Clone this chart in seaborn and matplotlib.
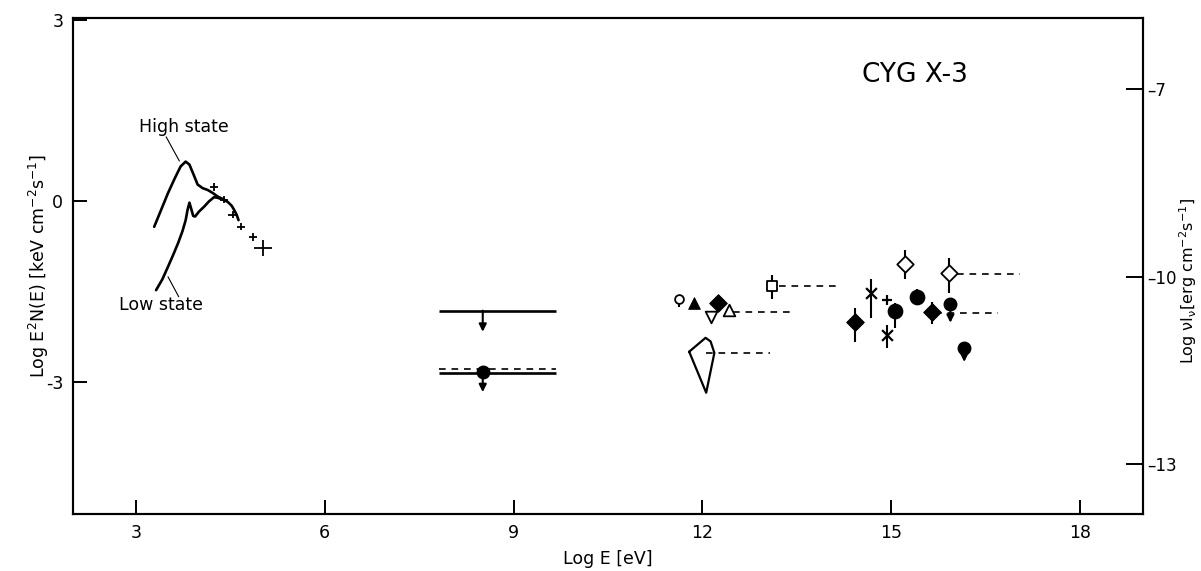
import numpy as np
import pandas as pd
import matplotlib
matplotlib.use("Agg")
import matplotlib.pyplot as plt
import seaborn as sns

# ---------------- data ----------------
high_x = [3.29, 3.40, 3.51, 3.62, 3.71, 3.79, 3.85, 3.91, 3.98, 4.06, 4.14, 4.22,
          4.30, 4.38, 4.46, 4.52, 4.56, 4.60, 4.63]
high_y = [-0.43, -0.15, 0.13, 0.38, 0.57, 0.65, 0.60, 0.45, 0.27, 0.21, 0.18, 0.13,
          0.07, 0.03, -0.02, -0.08, -0.15, -0.23, -0.32]
low_x = [3.32, 3.42, 3.51, 3.59, 3.67, 3.74, 3.79, 3.82, 3.85, 3.88, 3.91, 3.94,
         4.00, 4.08, 4.16, 4.24, 4.30, 4.38]
low_y = [-1.48, -1.30, -1.09, -0.90, -0.70, -0.50, -0.32, -0.15, -0.03, -0.14, -0.25, -0.26,
         -0.18, -0.10, -0.01, 0.06, 0.05, 0.02]

xray_x = [4.24, 4.40, 4.54, 4.67, 4.86, 5.02]
xray_y = [0.23, 0.02, -0.23, -0.43, -0.60, -0.78]
xray_xerr = [0.07, 0.07, 0.07, 0.07, 0.07, 0.14]
xray_yerr = [0.06, 0.06, 0.06, 0.06, 0.06, 0.13]

# horizontal segments (y, x_start, x_end)
solid_y = [-1.82, -2.85]
solid_x0 = [7.81, 7.81]
solid_x1 = [9.67, 9.67]
dashed_y = [-2.79, -1.84, -1.41, -2.52, -1.21, -1.86]
dashed_x0 = [7.81, 12.49, 13.21, 12.05, 16.05, 15.70]
dashed_x1 = [9.67, 13.44, 14.16, 13.08, 17.05, 16.70]

# upper-limit arrows (x, from y, to y)
ul_x = [8.51, 8.51, 15.94, 16.16]
ul_y0 = [-1.82, -2.84, -1.71, -2.44]
ul_y1 = [-2.17, -3.17, -2.02, -2.67]
ul_dot = [False, True, True, True]

# marker groups: x, y, lower, upper
fdiam_x = [12.25, 14.43, 15.65]
fdiam_y = [-1.69, -2.00, -1.84]
fdiam_lo = [-1.82, -2.34, -2.04]
fdiam_hi = [-1.59, -1.77, -1.67]

fcirc_x = [15.06, 15.41]
fcirc_y = [-1.82, -1.59]
fcirc_lo = [-2.11, -1.72]
fcirc_hi = [-1.69, -1.46]

odiam_x = [15.22, 15.92]
odiam_y = [-1.05, -1.19]
odiam_lo = [-1.29, -1.53]
odiam_hi = [-0.81, -0.95]

cross_x = [14.68, 14.94]
cross_y = [-1.52, -2.22]
cross_lo = [-1.94, -2.44]
cross_hi = [-1.29, -2.06]

plus_x = [14.94]
plus_y = [-1.64]

osq_x = [13.11]
osq_y = [-1.41]
osq_lo = [-1.63]
osq_hi = [-1.23]

ocirc_x = [11.63]
ocirc_y = [-1.63]
ocirc_lo = [-1.76]

ftri_x = [11.87]
ftri_y = [-1.69]
ftri_lo = [-1.80]

otridown_x = [12.13]
otridown_y = [-1.92]
otriup_x = [12.43]
otriup_y = [-1.81]

kite_x = [11.79, 12.05, 12.13, 12.19, 12.06, 11.79]
kite_y = [-2.50, -2.27, -2.33, -2.52, -3.18, -2.50]

x_ticks = [3, 6, 9, 12, 15, 18]
y_ticks = [-3, 0, 3]
y2_ticks = [-7, -10, -13]

# ---------------- plot ----------------
sns.set_style("ticks")
plt.rcParams['font.family'] = ['DejaVu Sans']
for k in ['text.color', 'axes.labelcolor', 'xtick.color', 'ytick.color', 'axes.edgecolor']:
    plt.rcParams[k] = 'black'

fig = plt.figure(figsize=(12.01, 5.71), dpi=100)
ax = fig.add_axes([73 / 1201, 1 - 514 / 571, (1143 - 73) / 1201, (514 - 18) / 571])

K = 'black'
lw_curve = 1.9

sns.lineplot(x=high_x, y=high_y, sort=False, estimator=None, color=K, lw=lw_curve, ax=ax)
sns.lineplot(x=low_x, y=low_y, sort=False, estimator=None, color=K, lw=lw_curve, ax=ax)

# labels for the states
ax.text(3.76, 1.23, "High state", ha='center', va='center', fontsize=12.5)
ax.plot([3.48, 3.69], [1.06, 0.66], color=K, lw=0.8)
ax.text(3.40, -1.72, "Low state", ha='center', va='center', fontsize=12.5)
ax.plot([3.51, 3.68], [-1.26, -1.59], color=K, lw=0.8)

# X-ray crosses
ax.errorbar(xray_x, xray_y, xerr=xray_xerr, yerr=xray_yerr, fmt='none',
            ecolor=K, elinewidth=1.3, capsize=0)

# horizontal segments
for y, a, b in zip(solid_y, solid_x0, solid_x1):
    ax.plot([a, b], [y, y], color=K, lw=1.9, solid_capstyle='butt')
for y, a, b in zip(dashed_y, dashed_x0, dashed_x1):
    ax.plot([a, b], [y, y], color=K, lw=1.2, ls=(0, (4, 3.5)))

# upper limit arrows
for x, y0, y1, dot in zip(ul_x, ul_y0, ul_y1, ul_dot):
    ax.annotate('', xy=(x, y1), xytext=(x, y0),
                arrowprops=dict(arrowstyle='-|>', color=K, lw=1.5,
                                mutation_scale=11, shrinkA=0, shrinkB=0))
    if dot:
        ax.plot([x], [y0], marker='o', ms=9, color=K, ls='none', zorder=5)

def ebar(x, y, lo, hi):
    y = np.asarray(y); lo = np.asarray(lo); hi = np.asarray(hi)
    ax.errorbar(x, y, yerr=[y - lo, hi - y], fmt='none', ecolor=K, elinewidth=1.5, capsize=0)

ebar(fdiam_x, fdiam_y, fdiam_lo, fdiam_hi)
ebar(fcirc_x, fcirc_y, fcirc_lo, fcirc_hi)
ebar(odiam_x, odiam_y, odiam_lo, odiam_hi)
ebar(cross_x, cross_y, cross_lo, cross_hi)
ebar(osq_x, osq_y, osq_lo, osq_hi)
ebar(ocirc_x, ocirc_y, ocirc_lo, ocirc_y)
ebar(ftri_x, ftri_y, ftri_lo, ftri_y)

sns.scatterplot(x=fdiam_x, y=fdiam_y, marker='D', s=80, color=K, edgecolor=K, ax=ax, zorder=5)
sns.scatterplot(x=fcirc_x, y=fcirc_y, marker='o', s=110, color=K, edgecolor=K, ax=ax, zorder=5)
sns.scatterplot(x=odiam_x, y=odiam_y, marker='D', s=70, facecolor='white', edgecolor=K,
                linewidth=1.3, ax=ax, zorder=5)
sns.scatterplot(x=cross_x, y=cross_y, marker='x', s=60, color=K, linewidth=1.6, ax=ax, zorder=5)
sns.scatterplot(x=plus_x, y=plus_y, marker='+', s=45, color=K, linewidth=1.6, ax=ax, zorder=5)
sns.scatterplot(x=osq_x, y=osq_y, marker='s', s=55, facecolor='white', edgecolor=K,
                linewidth=1.3, ax=ax, zorder=5)
sns.scatterplot(x=ocirc_x, y=ocirc_y, marker='o', s=40, facecolor='white', edgecolor=K,
                linewidth=1.3, ax=ax, zorder=5)
sns.scatterplot(x=ftri_x, y=ftri_y, marker='^', s=70, color=K, edgecolor=K, ax=ax, zorder=5)
sns.scatterplot(x=otridown_x, y=otridown_y, marker='v', s=70, facecolor='white', edgecolor=K,
                linewidth=1.3, ax=ax, zorder=5)
sns.scatterplot(x=otriup_x, y=otriup_y, marker='^', s=70, facecolor='white', edgecolor=K,
                linewidth=1.3, ax=ax, zorder=5)

sns.lineplot(x=kite_x, y=kite_y, sort=False, estimator=None, color=K, lw=1.6, ax=ax)

ax.text(15.38, 2.09, "CYG X-3", ha='center', va='center', fontsize=19)

# axes
ax.set_xlim(2, 19)
ax.set_ylim(-5.19, 3.03)
ax.set_xticks(x_ticks)
ax.set_yticks(y_ticks)
ax.set_xticklabels([str(v) for v in x_ticks])
ax.set_yticklabels([str(v) for v in y_ticks])
ax.tick_params(direction='in', length=10, width=1.4, labelsize=12.5, pad=7)
for sp in ax.spines.values():
    sp.set_visible(True)
    sp.set_linewidth(1.5)
ax.set_xlabel("Log E [eV]", fontsize=12.5, labelpad=6)
ax.set_ylabel(r"Log E$^2$N(E) [keV cm$^{-2}$s$^{-1}$]", fontsize=12.5)
ax.yaxis.set_label_coords(-0.0205, 0.5)

ax2 = ax.twinx()
ax2.set_ylim(-13.8, -5.86)
ax2.set_yticks(y2_ticks)
ax2.set_yticklabels(["\u2013" + str(abs(v)) for v in y2_ticks])
ax2.tick_params(direction='in', length=12, width=1.4, labelsize=12, pad=3)
for sp in ax2.spines.values():
    sp.set_linewidth(1.5)
ax2.set_ylabel("Log \u03bdI$_{\\mathregular{\u03bd}}$[erg cm$^{-2}$s$^{-1}$]", fontsize=11.5)
ax2.yaxis.set_label_coords(1.032, 0.47)

fig.savefig("out.png", dpi=100)
